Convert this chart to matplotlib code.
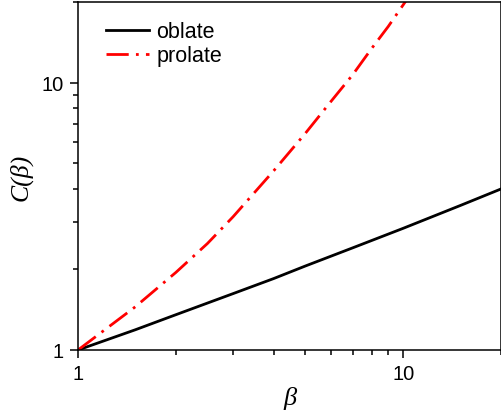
import matplotlib.pyplot as plt
from matplotlib.ticker import LogLocator, NullFormatter, FixedLocator, FixedFormatter

# valores
beta_oblate = [1, 1.5, 2, 3, 4, 5, 7, 10, 15, 20]
c_oblate = [1.0, 1.19, 1.355, 1.625, 1.85, 2.06, 2.41, 2.85, 3.47, 4.0]

beta_prolate = [1, 1.5, 2, 2.5, 3, 4, 5, 6, 7, 8, 9, 10, 11]
c_prolate = [1.0, 1.45, 1.95, 2.50, 3.15, 4.68, 6.45, 8.5, 10.7, 13.4, 16.2, 19.5, 23.1]

plt.rcParams["font.family"] = ["Liberation Sans", "DejaVu Sans"]

fig = plt.figure(figsize=(5.01, 4.14), dpi=100)
ax = fig.add_axes([78 / 501, 63 / 414, 423 / 501, 348 / 414])

ax.plot(beta_oblate, c_oblate, color="black", lw=2, label="oblate")
ax.plot(beta_prolate, c_prolate, color="red", lw=2,
        linestyle=(0, (8, 2.6, 1, 2.6)), label="prolate")

ax.set_xscale("log")
ax.set_yscale("log")
ax.set_xlim(1, 20)
ax.set_ylim(1, 20)

for axis in (ax.xaxis, ax.yaxis):
    axis.set_major_locator(FixedLocator([1, 10]))
    axis.set_major_formatter(FixedFormatter(["1", "10"]))
    axis.set_minor_locator(LogLocator(base=10, subs=range(2, 10)))
    axis.set_minor_formatter(NullFormatter())

ax.tick_params(which="major", direction="out", length=6, width=1.1,
               labelsize=14.5, pad=4)
ax.tick_params(which="minor", direction="out", length=3.5, width=1.1)
ax.tick_params(top=False, right=False, which="both")

for s in ax.spines.values():
    s.set_linewidth(1.1)

ax.set_xlabel("β", fontsize=19, family="Liberation Serif", style="italic",
              labelpad=2)
ax.set_ylabel("C(β)", fontsize=18.5, family="Liberation Serif", style="italic",
              labelpad=7)

ax.legend(loc="upper left", frameon=False, fontsize=15.5, handlelength=2.0,
          handletextpad=0.35, labelspacing=0.15, borderaxespad=0.0,
          bbox_to_anchor=(0.045, 0.97))

fig.savefig("out.png", dpi=100)
